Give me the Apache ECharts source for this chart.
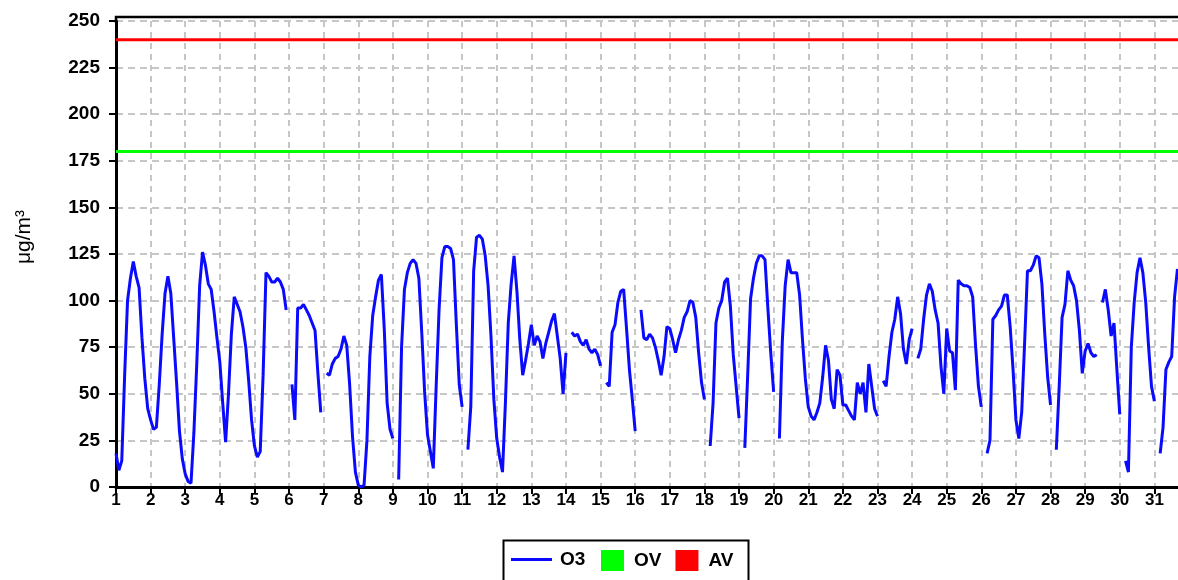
<!DOCTYPE html>
<html>
<head>
<meta charset="utf-8">
<script src="https://cdn.jsdelivr.net/npm/echarts@6/dist/echarts.min.js"></script>
<style>
  html, body { margin: 0; padding: 0; background: #fff; }
  #container { width: 1178px; height: 580px; }
</style>
</head>
<body>
<div id="container"></div>
<script>
// O3 readings every 2 hours, day 1 00:00 onwards (null = no data)
var o3 = [
    18, 9, 14, 60, 100, 112, 121, 113, 107, 80, 58, 42,
    36, 31, 32, 55, 82, 104, 113, 104, 80, 56, 30, 15,
    7, 3, 2, 29, 66, 108, 126, 119, 109, 106, 94, 80,
    67, 45, 24, 50, 82, 102, 98, 94, 86, 75, 57, 36,
    22, 16, 19, 60, 115, 113, 110, 110, 112, 110, 106, 95,
    null, 55, 36, 96, 96, 98, 95, 92, 88, 84, 61, 40,
    null, 61, 60, 66, 69, 70, 74, 81, 76, 55, 27, 8,
    1, 0, 1, 25, 70, 92, 102, 111, 114, 85, 45, 31,
    26, null, 4, 75, 106, 115, 120, 122, 120, 112, 83, 51,
    28, 19, 10, 54, 95, 123, 129, 129, 128, 122, 87, 55,
    43, null, 20, 43, 116, 134, 135, 133, 124, 108, 81, 47,
    26, 16, 8, 45, 88, 109, 124, 105, 79, 60, 68, 77,
    87, 76, 81, 78, 69, 77, 83, 89, 93, 81, 69, 50,
    72, null, 83, 81, 82, 78, 76, 79, 74, 72, 74, 71,
    65, null, 56, 54, 83, 87, 99, 105, 106, 85, 63, 47,
    30, null, 95, 80, 79, 82, 80, 75, 68, 60, 70, 86,
    85, 79, 72, 79, 84, 91, 94, 100, 99, 91, 72, 56,
    47, null, 22, 45, 88, 96, 100, 110, 112, 97, 71, 54,
    37, null, 21, 60, 101, 112, 120, 124, 124, 122, 96, 72,
    51, null, 26, 78, 108, 122, 115, 115, 115, 103, 79, 58,
    43, 38, 36, 40, 45, 59, 76, 68, 47, 42, 63, 60,
    44, 44, 41, 38, 36, 56, 50, 56, 40, 66, 54, 42,
    38, null, 57, 54, 70, 83, 90, 102, 93, 74, 66, 79,
    85, null, 69, 74, 90, 103, 109, 105, 95, 88, 65, 50,
    85, 73, 72, 52, 111, 109, 108, 108, 107, 102, 76, 54,
    43, null, 18, 25, 90, 92, 95, 97, 103, 103, 86, 63,
    36, 26, 40, 77, 116, 116, 119, 124, 123, 109, 82, 59,
    44, null, 20, 54, 91, 98, 116, 111, 108, 100, 84, 61,
    73, 77, 72, 70, 71, null, 99, 106, 95, 81, 88, 63,
    39, null, 14, 8, 75, 99, 115, 123, 115, 99, 75, 54,
    46, null, 18, 32, 63, 67, 70, 102, 117
];
var startDay = 1;
var stepHours = 2;
var dayMin = 1;
var dayMax = 32;
var ovLimit = 180;   // OV
var avLimit = 240;   // AV
var yMax = 250;
var yStep = 25;

var font = 'Liberation Sans';

var o3Data = o3.map(function (v, i) {
    return [startDay + i * stepHours / 24, v === null ? '-' : v];
});

function flatLine(value) {
    return [[dayMin, value], [dayMax, value]];
}

var myChart = echarts.init(document.getElementById('container'), null, { renderer: 'canvas' });

var option = {
    animation: false,
    backgroundColor: '#fff',
    // plot runs past the right edge of the picture
    grid: { left: 116, top: 21, right: -11, bottom: 93, outerBoundsMode: 'none', containLabel: false },
    xAxis: {
        type: 'value',
        min: dayMin, max: dayMax, interval: 1,
        axisLine: { show: true, onZero: false, lineStyle: { color: '#000', width: 3 } },
        axisTick: { show: true, length: 7, lineStyle: { color: '#000', width: 2 } },
        axisLabel: {
            color: '#000', fontFamily: font, fontWeight: 'bold', fontSize: 17, margin: 5
        },
        splitLine: { show: true, lineStyle: { color: '#c6c6c6', width: 2, type: [6, 5] } }
    },
    yAxis: {
        type: 'value',
        min: 0, max: yMax, interval: yStep,
        axisLine: { show: true, lineStyle: { color: '#000', width: 3 } },
        axisTick: { show: true, length: 7, lineStyle: { color: '#000', width: 2 } },
        axisLabel: {
            color: '#000', fontFamily: font, fontWeight: 'bold', fontSize: 19, margin: 16
        },
        splitLine: { show: true, lineStyle: { color: '#c6c6c6', width: 2, type: [7, 5] } }
    },
    legend: [{
        data: ['O3'],
        left: 511, top: 550, padding: 0,
        icon: 'rect', itemWidth: 41, itemHeight: 3,
        textStyle: { color: '#000', fontFamily: font, fontWeight: 'bold', fontSize: 19, padding: [0, 0, 0, 3] }
    }, {
        data: ['OV', 'AV'],
        left: 601, top: 550, padding: 0, itemGap: 14,
        icon: 'rect', itemWidth: 23, itemHeight: 21,
        textStyle: { color: '#000', fontFamily: font, fontWeight: 'bold', fontSize: 19, padding: [0, 0, 0, 5] }
    }],
    graphic: [{
        // frame: top edge and top stub of the left axis
        type: 'polyline',
        shape: { points: [[116, 23], [116, 17], [1180, 17]] },
        style: { fill: 'none', stroke: '#000', lineWidth: 2.5 }
    }, {
        type: 'rect', left: 501, top: 538,
        shape: { width: 245, height: 46 },
        style: { fill: 'none', stroke: '#000', lineWidth: 2 }
    }, {
        type: 'text', x: 24, y: 237, rotation: Math.PI / 2,
        style: {
            text: 'μg/m³', fill: '#000', font: '21px "' + font + '"',
            align: 'center', verticalAlign: 'middle'
        }
    }],
    series: [{
        name: 'O3', type: 'line', data: o3Data,
        symbol: 'none', connectNulls: false,
        color: '#0a0aff',
        lineStyle: { color: '#0a0aff', width: 3 },
        z: 4
    }, {
        name: 'OV', type: 'line', data: flatLine(ovLimit),
        symbol: 'none', color: '#00ff00',
        lineStyle: { color: '#00ff00', width: 3 }
    }, {
        name: 'AV', type: 'line', data: flatLine(avLimit),
        symbol: 'none', color: '#ff0000',
        lineStyle: { color: '#ff0000', width: 3 }
    }]
};

myChart.setOption(option);
</script>
</body>
</html>
